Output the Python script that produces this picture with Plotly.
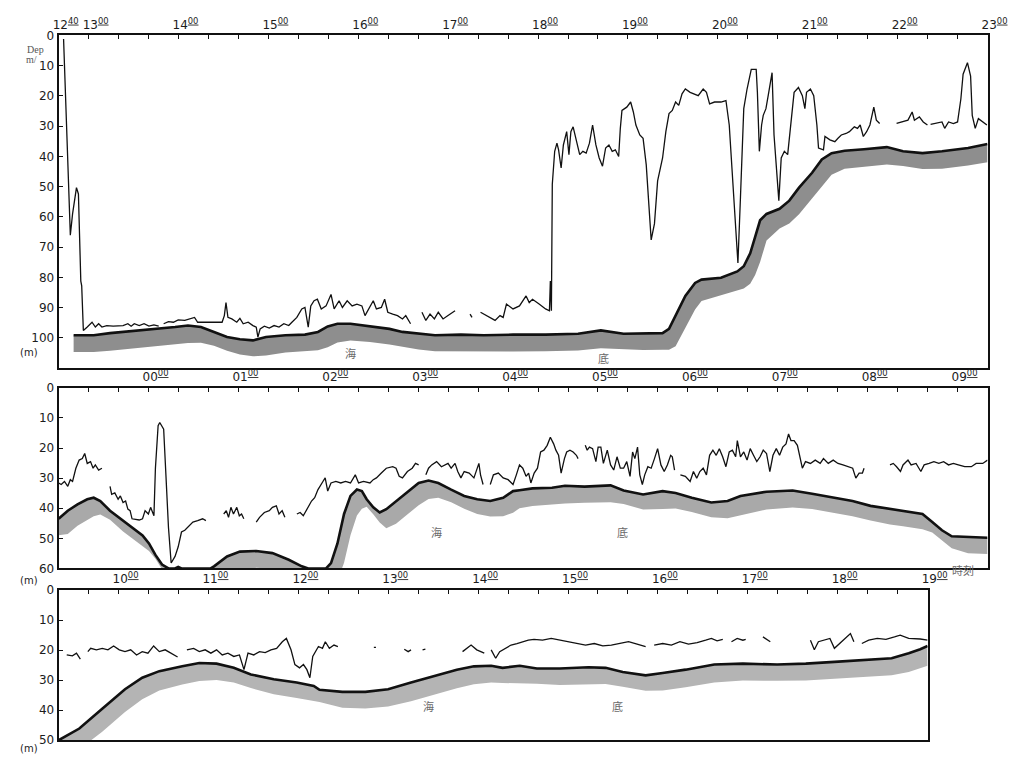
import numpy as np
import plotly.graph_objects as go

# ---------------------------------------------------------------------------
# Depth record of the tagged fish (thin line) and the sea floor (thick line).
# Times are minutes after the start of each strip, depths in metres.
# None marks a break in the record.
# ---------------------------------------------------------------------------

# Strip 1: 12:40 - 23:00
P1_START = "12:40"
P1_SPAN = 620
P1_HOURS = ["12:40", "13:00", "14:00", "15:00", "16:00", "17:00", "18:00",
            "19:00", "20:00", "21:00", "22:00", "23:00"]
P1_FISH = [
    (3.3, 1.2), (7.8, 66.0), (9.3, 59.0), (11.9, 50.3), (13.2, 52.4), (14.8, 81.2),
    (15.4, 82.8), (16.5, 97.5), (19.1, 96.4), (22.3, 94.8), (24.5, 96.4), (26.7, 95.3),
    (28.9, 96.4), (32.1, 95.9), (36.4, 96.1), (43.0, 95.9), (46.2, 95.3), (48.4, 96.1),
    (50.5, 95.3), (53.8, 95.9), (57.0, 95.3), (60.3, 96.1), (63.6, 95.7), (66.8, 96.1),
    None,
    (70.1, 95.3), (73.3, 94.6), (76.6, 94.8), (79.8, 94.0), (84.2, 94.2), (87.4, 93.7),
    (90.7, 93.2), (92.8, 94.8), (99.3, 94.8), (109.1, 94.8), (110.6, 92.6), (111.7, 88.3),
    (113.0, 93.2), (115.6, 93.7), (118.9, 94.8), (121.0, 93.5), (123.2, 95.3), (126.5, 94.8),
    (129.7, 95.9), (131.9, 96.4), (133.0, 99.7), (134.5, 97.0), (137.3, 96.1), (140.6, 96.7),
    (143.8, 95.9), (147.1, 96.4), (150.3, 95.3), (153.6, 95.9), (155.7, 94.8), (159.0, 93.2),
    (162.3, 90.4), (164.4, 89.9), (166.6, 96.4), (168.3, 89.4), (170.5, 87.7), (172.7, 87.2),
    (175.3, 90.4), (178.5, 89.4), (181.8, 85.6), (183.9, 90.4), (187.2, 87.7), (189.4, 89.9),
    (192.6, 87.7), (195.9, 89.4), (199.1, 88.8), (202.4, 89.4), (204.5, 92.6), (207.8, 89.4),
    (210.0, 87.7), (212.1, 90.4), (215.4, 89.9), (217.6, 87.2), (219.7, 91.5), (223.0, 92.1),
    (226.2, 92.6), (229.5, 93.7), (231.7, 92.6), (234.9, 95.3),
    None,
    (242.5, 91.5), (245.1, 94.2), (247.9, 92.1), (250.8, 93.7), (253.4, 91.5), (256.6, 93.7),
    (259.9, 92.6), (264.6, 91.0),
    None,
    (274.6, 92.1), (275.9, 93.2),
    None,
    (281.6, 91.5), (285.9, 92.6), (291.3, 94.2), (294.6, 92.6), (296.7, 93.2), (298.9, 88.8),
    (303.3, 90.4), (307.6, 89.4), (312.0, 86.1), (314.1, 88.3), (316.3, 87.2), (320.7, 88.8),
    (325.0, 90.4), (327.6, 91.0), (328.2, 81.2), (328.9, 91.0), (329.5, 49.2), (331.1, 38.3),
    (332.6, 35.6), (333.7, 37.8), (335.4, 43.8), (336.9, 36.2), (339.1, 31.8), (340.6, 39.4),
    (341.9, 31.8), (343.4, 30.2), (345.6, 34.5), (347.8, 39.4), (349.9, 38.3), (352.1, 38.9),
    (354.3, 35.6), (356.4, 29.6), (358.6, 36.2), (360.8, 40.5), (363.0, 43.2), (365.1, 37.2),
    (367.3, 36.2), (369.5, 38.3), (371.6, 37.8), (373.8, 40.0), (374.9, 30.7), (376.0, 24.8),
    (379.2, 23.7), (381.8, 22.0), (383.6, 25.3), (385.3, 29.6), (387.9, 32.9), (390.1, 34.0),
    (392.2, 42.7), (394.0, 54.6), (395.5, 67.6), (397.7, 62.2), (399.8, 48.1), (403.1, 40.5),
    (405.3, 31.8), (407.4, 25.8), (409.6, 24.8), (411.8, 22.0), (413.9, 23.1), (416.1, 19.3),
    (418.3, 17.7), (421.5, 18.8), (423.7, 19.3), (426.9, 19.9), (430.2, 17.7), (432.4, 18.8),
    (434.5, 22.6), (437.8, 22.0), (442.1, 22.0), (445.4, 21.5), (447.6, 29.6), (449.7, 47.0),
    (451.9, 64.4), (453.4, 75.2), (455.1, 53.5), (457.3, 24.2), (459.5, 17.7), (462.3, 11.2),
    (465.6, 11.2), (466.4, 18.8), (467.7, 38.3), (469.2, 29.6), (470.3, 26.4), (472.1, 24.2),
    (473.6, 19.9), (476.2, 12.3), (477.5, 32.9), (479.0, 43.8), (480.7, 54.6), (482.3, 40.5),
    (484.4, 38.3), (486.6, 39.4), (488.8, 29.6), (490.9, 18.8), (493.8, 17.2), (496.4, 19.9),
    (498.1, 24.2), (499.2, 18.8), (501.8, 17.7), (504.0, 19.9), (506.1, 29.6), (507.2, 37.2),
    (510.5, 37.8), (511.5, 33.4), (514.8, 34.5), (518.1, 35.1), (520.2, 34.0), (522.4, 32.9),
    (525.6, 32.4), (527.8, 31.8), (531.1, 30.2), (533.2, 30.7), (535.0, 29.6), (537.1, 33.4),
    (539.3, 31.8), (541.5, 29.6), (544.1, 23.7), (545.8, 28.0), (548.0, 29.1),
    None,
    (559.3, 29.1), (563.6, 28.6), (566.9, 28.0), (569.7, 25.3), (571.2, 28.0), (574.5, 26.9),
    (577.1, 28.6), (579.9, 29.6),
    None,
    (582.0, 29.4), (585.3, 29.1), (589.6, 28.6), (591.4, 30.7), (594.0, 28.6), (597.2, 29.1),
    (600.0, 28.6), (602.2, 21.0), (603.7, 12.8), (606.6, 9.0), (608.7, 13.4), (609.8, 26.4),
    (611.8, 30.7), (613.9, 27.5), (616.8, 28.6), (619.6, 29.6),
]
P1_FLOOR = [
    (10.0, 99.1), (23.4, 99.1), (34.3, 98.4), (56.0, 97.5), (77.7, 96.4), (86.3, 95.9),
    (95.0, 96.4), (103.7, 98.0), (112.4, 99.7), (121.0, 100.4), (129.7, 100.8), (138.4, 99.7),
    (151.4, 99.1), (164.4, 98.9), (173.1, 98.0), (179.6, 96.2), (186.1, 95.3), (194.8, 95.3),
    (207.8, 96.1), (220.8, 97.0), (229.5, 98.0), (240.3, 98.6), (251.2, 99.1), (268.5, 98.9),
    (283.7, 99.1), (303.3, 98.9), (325.0, 98.9), (346.7, 98.6), (361.9, 97.5), (377.1, 98.6),
    (390.1, 98.4), (403.1, 98.4), (407.4, 97.0), (411.8, 92.6), (418.3, 86.1), (424.8, 81.8),
    (429.1, 80.7), (442.1, 80.1), (453.0, 78.0), (457.3, 76.3), (461.6, 72.0), (464.9, 66.6),
    (468.2, 61.1), (472.5, 59.0), (481.2, 57.3), (487.7, 54.6), (494.2, 50.3), (502.9, 45.4),
    (509.4, 41.0), (515.9, 38.9), (524.6, 38.1), (537.6, 37.6), (552.8, 36.9), (563.6, 38.3),
    (576.6, 38.9), (589.6, 38.3), (607.0, 37.2), (620.0, 35.9),
]

# Strip 2: 23:00 - 09:20
P2_START = "23:00"
P2_SPAN = 620
P2_HOURS = ["00:00", "01:00", "02:00", "03:00", "04:00", "05:00", "06:00",
            "07:00", "08:00", "09:00"]
P2_FISH = [
    (0.0, 31.6), (1.7, 32.1), (3.9, 31.1), (6.1, 32.7), (7.8, 30.5), (9.3, 31.1),
    (11.5, 26.7), (13.7, 24.0), (15.8, 23.5), (17.4, 21.8), (19.1, 25.1), (21.3, 24.5),
    (23.0, 26.7), (24.5, 25.6), (26.7, 27.3), (28.9, 26.7),
    None,
    (34.3, 32.7), (35.4, 35.4), (37.5, 34.9), (39.7, 37.0), (41.2, 35.9), (43.0, 38.1),
    (44.7, 37.6), (46.2, 40.3), (47.7, 40.8), (49.0, 43.5), (53.8, 43.9), (56.0, 43.5),
    (57.7, 40.8), (59.9, 41.9), (61.4, 39.7), (63.6, 42.5), (64.6, 26.7), (66.4, 12.6),
    (67.5, 11.5), (70.1, 13.7), (71.6, 28.9), (73.3, 46.3), (75.1, 58.2), (77.7, 56.0),
    (79.8, 52.8), (82.0, 47.9), (84.2, 47.3), (86.3, 46.3), (89.6, 44.6), (92.8, 44.1),
    (96.1, 43.5), (98.3, 44.1),
    None,
    (110.2, 41.9), (111.9, 40.8), (113.4, 43.0), (115.0, 39.7), (116.7, 41.9), (118.9, 39.7),
    (120.6, 42.5), (122.1, 41.9), (123.6, 43.5),
    None,
    (131.9, 44.6), (134.1, 43.0), (137.3, 41.4), (140.6, 40.8), (142.7, 39.7), (145.3, 39.2),
    (147.1, 41.9), (149.2, 40.8), (151.0, 43.0),
    None,
    (159.0, 41.9), (161.2, 41.4), (163.3, 42.5), (166.6, 39.7), (168.8, 37.6), (170.9, 36.5),
    (173.1, 33.8), (176.4, 31.1), (177.9, 29.9), (179.6, 34.3), (181.8, 31.6), (185.0, 31.1),
    (188.3, 31.6), (191.5, 31.1), (194.8, 31.6), (198.0, 28.9), (200.2, 31.6), (203.5, 31.1),
    (207.8, 31.6), (210.0, 30.5), (212.1, 29.9), (215.4, 28.3), (218.7, 26.7), (223.0, 26.2),
    (225.2, 26.7), (227.3, 29.4), (229.5, 29.9), (232.8, 27.8), (236.0, 26.7), (238.2, 25.1),
    (240.3, 25.6),
    None,
    (245.1, 28.9), (246.9, 26.7), (249.0, 25.6), (252.3, 24.5), (255.5, 26.2), (259.9, 25.1),
    (262.0, 26.7), (264.6, 25.1), (266.4, 27.8), (268.5, 29.9), (270.7, 27.8), (274.0, 28.3),
    (277.2, 29.9), (279.4, 26.2), (280.5, 25.1), (281.6, 28.9), (283.3, 32.1),
    None,
    (288.1, 32.1), (290.2, 28.9), (293.5, 28.3), (296.7, 29.9), (300.0, 30.5), (303.3, 32.1),
    (305.5, 28.9), (307.6, 25.6), (309.8, 26.7), (312.0, 29.4), (313.7, 28.3), (315.2, 31.6),
    (317.4, 28.3), (319.6, 26.7), (321.7, 21.3), (323.9, 20.7), (326.1, 19.1), (328.2, 16.4),
    (330.4, 18.6), (331.9, 20.7), (333.7, 22.4), (335.4, 28.3), (337.6, 23.5), (339.1, 21.3),
    (341.3, 20.7), (343.4, 21.3), (345.6, 22.4), (346.7, 23.5),
    None,
    (351.5, 19.1), (352.8, 20.7), (354.3, 19.7), (356.4, 20.2), (358.6, 24.5), (360.1, 19.7),
    (361.9, 19.7), (363.6, 25.1), (366.2, 20.7), (368.4, 25.6), (370.5, 27.3), (372.7, 22.9),
    (374.9, 26.7), (377.1, 26.7), (379.2, 24.5), (381.4, 29.4), (383.1, 21.3), (384.6, 23.5),
    (386.4, 19.7), (387.9, 28.9), (389.6, 32.1), (391.2, 28.9), (393.3, 26.2), (395.5, 26.7),
    (397.7, 23.5), (399.8, 20.2), (402.0, 25.6), (404.2, 27.8), (406.3, 25.6), (408.5, 22.4),
    (409.6, 22.9), (411.1, 27.3),
    None,
    (415.0, 28.9), (418.3, 29.4), (421.5, 31.1), (423.7, 27.8), (425.9, 30.0), (428.0, 27.8),
    (430.2, 26.7), (432.4, 28.9), (434.5, 22.4), (436.7, 20.7), (438.9, 22.4), (441.0, 20.2),
    (443.2, 22.9), (445.4, 26.2), (447.6, 21.3), (449.7, 20.7), (451.9, 22.9), (453.0, 17.5),
    (455.1, 22.9), (457.3, 21.3), (459.5, 24.0), (461.6, 20.2), (463.8, 22.4), (466.0, 24.5),
    (468.2, 22.9), (470.3, 20.7), (472.5, 21.8), (474.7, 27.8), (476.8, 22.4), (479.0, 20.2),
    (481.2, 22.4), (483.3, 19.7), (485.5, 18.6), (487.2, 15.3), (488.8, 17.5), (490.9, 17.5),
    (493.1, 19.1), (495.3, 23.5), (496.4, 26.7), (498.5, 24.5), (501.8, 25.1), (505.0, 24.0),
    (508.3, 25.1), (510.5, 23.5), (513.7, 25.1), (517.0, 24.0), (520.2, 25.1), (523.5, 25.6),
    (526.7, 26.2), (530.0, 26.7), (532.1, 30.0), (534.3, 28.3), (536.5, 28.3), (537.6, 26.7),
    None,
    (554.9, 25.6), (557.1, 25.1), (559.3, 26.2), (561.9, 27.8), (563.6, 25.6), (566.9, 24.0),
    (569.0, 25.6), (572.3, 25.1), (575.5, 27.8), (577.7, 25.6), (581.0, 25.1), (584.2, 24.5),
    (587.5, 25.1), (590.7, 24.5), (594.0, 25.6), (597.2, 25.1), (600.5, 25.6), (604.8, 26.2),
    (609.2, 26.2), (612.4, 25.1), (616.8, 25.1), (620.0, 24.0),
]
P2_FLOOR = [
    (0.0, 43.5), (6.1, 40.8), (12.6, 38.7), (19.1, 37.0), (23.4, 36.5), (27.8, 37.6),
    (34.3, 40.8), (43.0, 44.1), (51.6, 47.3), (56.0, 49.0), (60.3, 51.7), (64.6, 55.5),
    (69.0, 58.7), (73.3, 60.0), (77.7, 60.0), (79.8, 59.5), (82.0, 60.0), (101.5, 60.0),
    (103.7, 59.3), (112.4, 56.0), (121.0, 54.4), (131.9, 54.2), (142.7, 54.9), (153.6, 57.1),
    (162.3, 59.3), (166.6, 60.0), (178.5, 60.0), (181.8, 58.2), (186.1, 51.7), (190.5, 41.9),
    (194.8, 35.9), (199.1, 33.8), (202.4, 34.3), (205.6, 37.0), (210.0, 39.7), (214.3, 41.4),
    (218.7, 40.3), (225.2, 37.6), (231.7, 34.9), (240.3, 31.6), (246.9, 30.8), (253.4, 31.6),
    (262.0, 33.8), (270.7, 35.9), (279.4, 37.0), (288.1, 37.6), (296.7, 36.5), (303.3, 34.3),
    (307.6, 34.0), (316.3, 33.4), (329.3, 33.2), (338.0, 32.5), (351.0, 32.8), (368.4, 32.4),
    (377.1, 34.1), (390.1, 35.4), (403.1, 34.3), (411.8, 34.9), (422.6, 36.5), (435.6, 38.1),
    (446.5, 37.6), (455.1, 35.9), (472.5, 34.5), (489.9, 34.1), (502.9, 35.2), (515.9, 36.3),
    (529.9, 37.6), (541.9, 39.2), (554.9, 40.3), (563.6, 40.8), (576.6, 41.9), (583.1, 44.6),
    (589.6, 47.3), (596.1, 49.3), (607.0, 49.5), (620.0, 49.8),
]

# Strip 3: 09:20 - 19:00
P3_START = "09:20"
P3_SPAN = 580
P3_HOURS = ["10:00", "11:00", "12:00", "13:00", "14:00", "15:00", "16:00",
            "17:00", "18:00", "19:00"]
P3_FISH = [
    (5.4, 21.6), (9.2, 21.9), (11.9, 21.0), (14.5, 23.0),
    None,
    (19.5, 20.5), (21.4, 19.4), (25.2, 19.9), (29.1, 19.4), (32.9, 19.9), (36.7, 18.6),
    (40.5, 19.9), (44.3, 20.5), (48.1, 19.9), (52.0, 21.6), (55.8, 20.5), (59.6, 21.0),
    (63.4, 18.6), (67.2, 20.5), (71.1, 19.9), (74.9, 21.0), (79.4, 22.3),
    None,
    (85.6, 19.9), (90.1, 19.4), (93.9, 20.5), (97.8, 19.9), (101.6, 21.0), (105.4, 19.9),
    (109.2, 21.6), (113.0, 21.0), (116.9, 22.1), (120.7, 21.6), (123.7, 26.5), (126.4, 21.0),
    (130.2, 21.6), (134.1, 20.5), (137.9, 20.8), (141.7, 19.9), (145.5, 19.4), (149.3, 17.2),
    (152.0, 16.1), (155.1, 19.9), (157.7, 24.8), (160.8, 25.9), (163.4, 24.8), (165.7, 26.5),
    (167.7, 29.2), (169.6, 22.1), (173.4, 18.8), (176.1, 19.4), (178.0, 17.2), (180.7, 19.4),
    (183.8, 18.3), (186.4, 18.8),
    None,
    (210.4, 19.1), (211.8, 19.1),
    None,
    (230.7, 19.7), (233.3, 20.5), (235.2, 19.9),
    None,
    (242.9, 19.9), (244.8, 19.7),
    None,
    (269.6, 20.5), (272.6, 19.4), (275.3, 18.3), (279.1, 19.9), (284.1, 21.0),
    None,
    (288.7, 19.9), (291.7, 22.7), (294.4, 20.5), (298.2, 19.4), (302.0, 18.3), (305.9, 17.8),
    (309.7, 17.2), (313.5, 16.7), (317.3, 16.4), (323.0, 16.7), (328.8, 16.1), (334.5, 16.7),
    (340.3, 17.2), (346.0, 17.8), (351.7, 18.3), (357.5, 17.8), (363.2, 18.6), (368.9, 18.3),
    (374.6, 17.8), (380.4, 17.2), (386.1, 18.0), (391.8, 18.8),
    None,
    (397.5, 18.3), (403.2, 17.8), (409.0, 18.3), (414.7, 17.2), (420.4, 18.0), (426.2, 17.5),
    (431.9, 16.7), (435.7, 16.1), (439.5, 16.9), (443.3, 16.4),
    None,
    (449.1, 17.2), (452.9, 16.1), (456.7, 16.7), (458.6, 16.4),
    None,
    (470.1, 15.6), (475.0, 17.2),
    None,
    (501.8, 16.7), (504.4, 19.9), (507.1, 17.2), (510.2, 16.7), (514.8, 16.1), (517.8, 19.4),
    (522.4, 17.2), (525.4, 16.1), (528.5, 14.5), (530.8, 17.2),
    None,
    (536.1, 17.8), (540.7, 16.7), (546.4, 16.1), (552.2, 16.4), (557.9, 15.6), (561.7, 15.0),
    (567.4, 16.1), (575.1, 16.3), (580.0, 16.7),
]
P3_FLOOR = [
    (0.0, 50.0), (13.8, 46.1), (29.1, 39.5), (44.3, 33.0), (55.8, 29.2), (67.2, 27.0),
    (82.5, 25.4), (93.9, 24.3), (105.4, 24.5), (116.9, 25.9), (128.3, 28.1), (143.6, 29.7),
    (158.9, 30.8), (170.3, 31.9), (174.1, 33.2), (189.4, 33.9), (204.7, 33.9), (219.9, 33.0),
    (235.2, 30.8), (250.5, 28.6), (265.8, 26.5), (277.2, 25.4), (288.7, 25.2), (296.3, 25.9),
    (307.8, 25.2), (319.2, 26.1), (334.5, 26.1), (353.6, 25.7), (365.1, 25.9), (376.5, 27.3),
    (391.8, 28.4), (403.2, 27.6), (418.5, 26.5), (437.6, 24.8), (456.7, 24.5), (479.6, 24.8),
    (498.7, 24.5), (517.8, 23.9), (536.9, 23.2), (556.0, 22.7), (567.4, 21.0), (575.1, 19.7),
    (580.0, 18.6),
]

# ---------------------------------------------------------------------------
W, H = 1030, 760
LEFT = 54            # px, left frame of every strip
PX_PER_MIN = 1.537   # common time scale of the three strips

PANELS = [
    dict(start=P1_START, span=P1_SPAN, hours=P1_HOURS, fish=P1_FISH, floor=P1_FLOOR,
         top=29, bottom=368, ymax=110, yticks=100, shade="#8e8e8e", first_label=True,
         sea=[(353, 353, "海"), (613, 358, "底")], munit_y=352),
    dict(start=P2_START, span=P2_SPAN, hours=P2_HOURS, fish=P2_FISH, floor=P2_FLOOR,
         top=388, bottom=572, ymax=60, yticks=60, shade="#a9a9a9", first_label=False,
         sea=[(442, 545, "海"), (632, 545, "底")], munit_y=584),
    dict(start=P3_START, span=P3_SPAN, hours=P3_HOURS, fish=P3_FISH, floor=P3_FLOOR,
         top=594, bottom=747, ymax=50, yticks=50, shade="#b4b4b4", first_label=False,
         sea=[(433, 722, "海"), (627, 722, "底")], munit_y=755),
]

TICK_FONT = dict(family="DejaVu Sans", size=12, color="#1c1c1c")
UNIT_FONT = dict(family="DejaVu Sans", size=10, color="#1c1c1c")
SERIF = dict(family="Liberation Serif", size=10, color="#555555")
CJK = dict(family="Noto Sans CJK JP", size=11, color="#6a6a6a")


def clock(s):
    h, m = s.split(":")
    return int(h) * 60 + int(m)


def split(pairs):
    xs, ys = [], []
    for p in pairs:
        if p is None:
            xs.append(None)
            ys.append(None)
        else:
            xs.append(p[0])
            ys.append(p[1])
    return xs, ys


def hour_label(s):
    h, m = s.split(":")
    return f"{h}<sup><u>{m}</u></sup>"


fig = go.Figure()
annotations = []

for i, p in enumerate(PANELS, start=1):
    xa = "x" if i == 1 else f"x{i}"
    ya = "y" if i == 1 else f"y{i}"
    t0 = clock(p["start"])

    # sea floor and the shaded band beneath it
    ft, fd = split(p["floor"])
    ft = np.array(ft, dtype=float)
    fd = np.array(fd, dtype=float)
    lower = np.interp(ft - 5.0, ft, fd) + 5.5
    fig.add_trace(go.Scatter(x=ft, y=fd, mode="lines", line=dict(width=0, color=p["shade"]),
                             xaxis=xa, yaxis=ya, hoverinfo="skip"))
    fig.add_trace(go.Scatter(x=ft, y=lower, mode="lines", fill="tonexty",
                             fillcolor=p["shade"], line=dict(width=0, color=p["shade"]),
                             xaxis=xa, yaxis=ya, hoverinfo="skip"))
    fig.add_trace(go.Scatter(x=ft, y=fd, mode="lines", line=dict(width=2.6, color="#111111"),
                             xaxis=xa, yaxis=ya))

    # fish depth
    st, sd = split(p["fish"])
    fig.add_trace(go.Scatter(x=st, y=sd, mode="lines", connectgaps=False,
                             line=dict(width=1.3, color="#111111"),
                             xaxis=xa, yaxis=ya))

    # time axis on top: a tick every 20 minutes, hours labelled
    labels = {}
    for s in p["hours"]:
        labels[round((clock(s) - t0) % 1440)] = hour_label(s)
    if p["first_label"]:
        labels[0] = hour_label(p["start"])
    tickvals = list(range(0, p["span"] + 1, 20))
    ticktext = [labels.get(v, "") for v in tickvals]

    x0 = LEFT / W
    x1 = (LEFT + p["span"] * PX_PER_MIN) / W
    y0 = 1 - p["bottom"] / H
    y1 = 1 - p["top"] / H

    fig.layout[("xaxis" if i == 1 else f"xaxis{i}")] = dict(
        domain=[x0, x1], range=[0, p["span"]], side="top", anchor=ya,
        tickvals=tickvals, ticktext=ticktext, ticks="inside", ticklen=4, tickwidth=1.3,
        tickcolor="#111111", tickfont=TICK_FONT, ticklabelshift=7,
        showline=True, linecolor="#111111", linewidth=2, mirror=True,
        showgrid=False, zeroline=False, fixedrange=True,
    )
    fig.layout[("yaxis" if i == 1 else f"yaxis{i}")] = dict(
        domain=[y0, y1], range=[p["ymax"], 0], anchor=xa,
        tickvals=list(range(0, p["yticks"] + 1, 10)), ticks="inside", ticklen=4,
        tickwidth=1.3, tickcolor="#111111", tickfont=TICK_FONT,
        showline=True, linecolor="#111111", linewidth=2, mirror=True,
        showgrid=False, zeroline=False, fixedrange=True,
    )

    annotations.append(dict(text="(m)", x=24 / W, y=1 - p["munit_y"] / H, xref="paper",
                            yref="paper", showarrow=False, font=UNIT_FONT,
                            xanchor="center", yanchor="middle"))
    for (ax, ay, ch) in p["sea"]:
        annotations.append(dict(text=ch, x=ax / W, y=1 - ay / H, xref="paper", yref="paper",
                                showarrow=False, font=CJK))

annotations += [
    dict(text="Dep", x=19 / W, y=1 - 36 / H, xref="paper", yref="paper", showarrow=False,
         font=SERIF),
    dict(text="m/", x=18 / W, y=1 - 46 / H, xref="paper", yref="paper", showarrow=False,
         font=SERIF),
    dict(text="時刻", x=995 / W, y=1 - 584 / H, xref="paper", yref="paper", showarrow=False,
         font=CJK),
]

fig.update_layout(
    width=W, height=H, margin=dict(l=0, r=0, t=0, b=0),
    paper_bgcolor="white", plot_bgcolor="white", showlegend=False,
    annotations=annotations,
)

fig.write_html("out.html")
